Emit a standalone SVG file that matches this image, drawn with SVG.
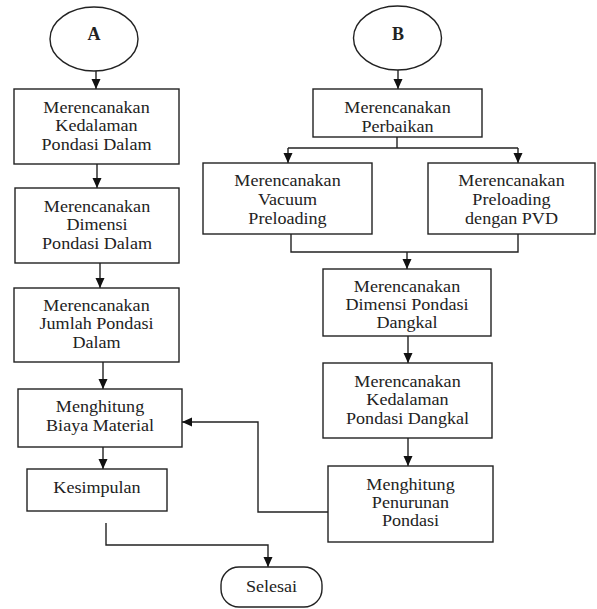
<svg xmlns="http://www.w3.org/2000/svg" width="597" height="609" viewBox="0 0 597 609">
<style>
.b{fill:#fff;stroke:#222;stroke-width:1.4}
.t{font-family:"Liberation Serif","Times New Roman",serif;font-size:16px;fill:#222;text-anchor:middle}
.h{font-weight:bold;font-size:18px}
.c{fill:none;stroke:#222;stroke-width:1.4}
</style>
<defs>
<marker id="ar" markerUnits="userSpaceOnUse" markerWidth="11" markerHeight="10" refX="10" refY="5" orient="auto">
<path d="M0,0.5 L10,5 L0,9.5 z" fill="#111"/>
</marker>
</defs>
<rect width="597" height="609" fill="#fff"/>
<g id="connectors">
<line class="c" x1="96" y1="71" x2="96" y2="89" marker-end="url(#ar)"/>
<line class="c" x1="97" y1="164" x2="97" y2="188" marker-end="url(#ar)"/>
<line class="c" x1="100" y1="263" x2="100" y2="288" marker-end="url(#ar)"/>
<line class="c" x1="103" y1="362" x2="103" y2="389" marker-end="url(#ar)"/>
<line class="c" x1="103" y1="447" x2="103" y2="469" marker-end="url(#ar)"/>
<polyline class="c" points="106,523 106,545 268,545 268,567" marker-end="url(#ar)"/>
<line class="c" x1="398" y1="70" x2="398" y2="89" marker-end="url(#ar)"/>
<polyline class="c" points="397,137 397,148"/>
<line class="c" x1="288" y1="148" x2="518" y2="148"/>
<line class="c" x1="288" y1="148" x2="288" y2="163" marker-end="url(#ar)"/>
<line class="c" x1="518" y1="148" x2="518" y2="163" marker-end="url(#ar)"/>
<polyline class="c" points="291,234 291,252 518,252 518,234"/>
<line class="c" x1="407" y1="252" x2="407" y2="269" marker-end="url(#ar)"/>
<line class="c" x1="408" y1="336" x2="408" y2="363" marker-end="url(#ar)"/>
<line class="c" x1="408" y1="438" x2="408" y2="466" marker-end="url(#ar)"/>
<polyline class="c" points="328,512 258,512 258,422 182,422" marker-end="url(#ar)"/>
</g>
<g id="A">
<ellipse class="b" cx="94" cy="39" rx="44" ry="32"/>
<text class="t h" x="94" y="40">A</text>
</g>
<g id="box1">
<rect class="b" x="14" y="89" width="165" height="75"/>
<g transform="translate(96.5,0) scale(1.13,1)">
<text class="t" x="0" y="113">Merencanakan</text>
<text class="t" x="0" y="131.5">Kedalaman</text>
<text class="t" x="0" y="150">Pondasi Dalam</text>
</g>
</g>
<g id="box2">
<rect class="b" x="15" y="188" width="164" height="75"/>
<g transform="translate(97,0) scale(1.13,1)">
<text class="t" x="0" y="212.5">Merencanakan</text>
<text class="t" x="0" y="230.5">Dimensi</text>
<text class="t" x="0" y="249">Pondasi Dalam</text>
</g>
</g>
<g id="box3">
<rect class="b" x="14" y="288" width="165" height="74"/>
<g transform="translate(96.5,0) scale(1.13,1)">
<text class="t" x="0" y="311">Merencanakan</text>
<text class="t" x="0" y="329.5">Jumlah Pondasi</text>
<text class="t" x="0" y="348">Dalam</text>
</g>
</g>
<g id="box4">
<rect class="b" x="18" y="389" width="164" height="58"/>
<g transform="translate(100,0) scale(1.13,1)">
<text class="t" x="0" y="412">Menghitung</text>
<text class="t" x="0" y="431">Biaya Material</text>
</g>
</g>
<g id="kesimpulan">
<rect class="b" x="27" y="469" width="140" height="42"/>
<g transform="translate(97,0) scale(1.13,1)">
<text class="t" x="0" y="493">Kesimpulan</text>
</g>
</g>
<g id="selesai">
<rect class="b" x="221" y="567" width="101" height="40" rx="18" ry="18"/>
<g transform="translate(271.5,0) scale(1.13,1)">
<text class="t" x="0" y="592">Selesai</text>
</g>
</g>
<g id="B">
<ellipse class="b" cx="397.5" cy="38" rx="44" ry="32"/>
<text class="t h" x="398" y="40">B</text>
</g>
<g id="perbaikan">
<rect class="b" x="313" y="89" width="169" height="48"/>
<g transform="translate(397.5,0) scale(1.13,1)">
<text class="t" x="0" y="113">Merencanakan</text>
<text class="t" x="0" y="132">Perbaikan</text>
</g>
</g>
<g id="vacuum">
<rect class="b" x="203" y="163" width="169" height="71"/>
<g transform="translate(287.5,0) scale(1.13,1)">
<text class="t" x="0" y="186">Merencanakan</text>
<text class="t" x="0" y="205">Vacuum</text>
<text class="t" x="0" y="224">Preloading</text>
</g>
</g>
<g id="pvd">
<rect class="b" x="428" y="163" width="167" height="71"/>
<g transform="translate(511.5,0) scale(1.13,1)">
<text class="t" x="0" y="186">Merencanakan</text>
<text class="t" x="0" y="205">Preloading</text>
<text class="t" x="0" y="224">dengan PVD</text>
</g>
</g>
<g id="dimensiDangkal">
<rect class="b" x="323" y="269" width="168" height="67"/>
<g transform="translate(407,0) scale(1.13,1)">
<text class="t" x="0" y="292">Merencanakan</text>
<text class="t" x="0" y="310">Dimensi Pondasi</text>
<text class="t" x="0" y="328">Dangkal</text>
</g>
</g>
<g id="kedalamanDangkal">
<rect class="b" x="323" y="363" width="169" height="75"/>
<g transform="translate(407.5,0) scale(1.13,1)">
<text class="t" x="0" y="387">Merencanakan</text>
<text class="t" x="0" y="405.5">Kedalaman</text>
<text class="t" x="0" y="424">Pondasi Dangkal</text>
</g>
</g>
<g id="penurunan">
<rect class="b" x="328" y="466" width="165" height="76"/>
<g transform="translate(410.5,0) scale(1.13,1)">
<text class="t" x="0" y="490">Menghitung</text>
<text class="t" x="0" y="508">Penurunan</text>
<text class="t" x="0" y="526">Pondasi</text>
</g>
</g>
</svg>
